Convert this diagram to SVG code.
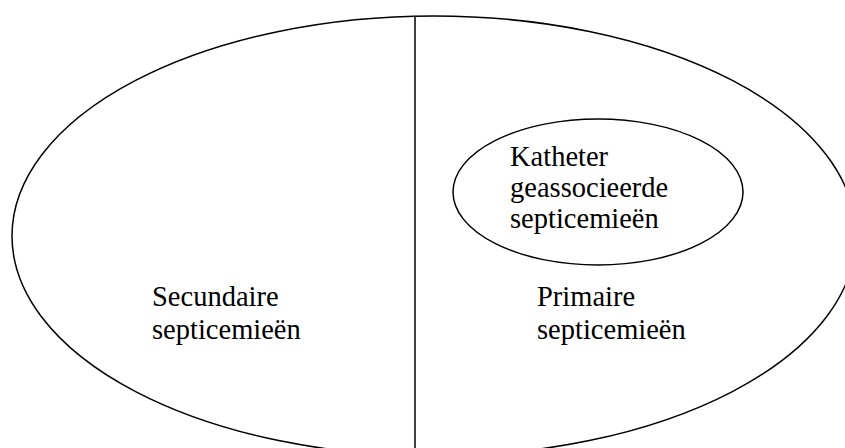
<svg xmlns="http://www.w3.org/2000/svg" width="845" height="448" viewBox="0 0 845 448">
<style>
.shape{fill:none;stroke:#000;stroke-width:1.5}
.lbl{font-family:'Liberation Serif','Times New Roman',serif;font-size:28.5px;fill:#000}
</style>
<rect width="845" height="448" fill="#fff"/>
<g id="outer">
<ellipse class="shape" cx="434" cy="236" rx="422" ry="220"/>
</g>
<g id="connectors">
<line class="shape" x1="415" y1="16" x2="415" y2="448"/>
</g>
<g id="secundaire">
<text class="lbl" x="152" y="306">Secundaire</text>
<text class="lbl" x="152" y="339">septicemieën</text>
</g>
<g id="primaire">
<text class="lbl" x="537" y="306">Primaire</text>
<text class="lbl" x="537" y="339">septicemieën</text>
</g>
<g id="katheter">
<ellipse class="shape" cx="598" cy="192" rx="145" ry="73"/>
<text class="lbl" x="510" y="166">Katheter</text>
<text class="lbl" x="510" y="197">geassocieerde</text>
<text class="lbl" x="510" y="228">septicemieën</text>
</g>
</svg>
